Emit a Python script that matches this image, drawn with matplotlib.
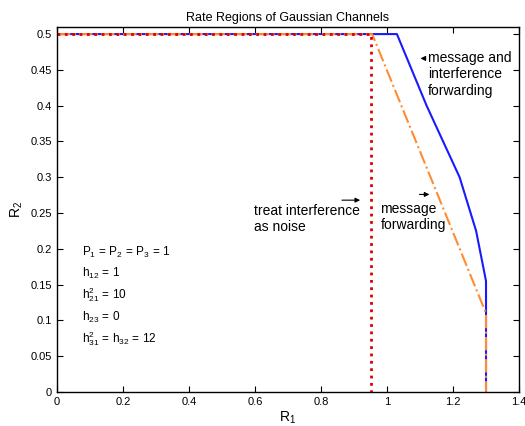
import numpy as np
import matplotlib
matplotlib.use('Agg')
import matplotlib.pyplot as plt

plt.rcParams['font.family'] = ['Liberation Sans', 'DejaVu Sans']
plt.rcParams['mathtext.fontset'] = 'custom'
plt.rcParams['mathtext.rm'] = 'Liberation Sans'
plt.rcParams['mathtext.it'] = 'Liberation Sans'

# message and interference forwarding
mif_r1 = [0, 1.03, 1.12, 1.22, 1.27, 1.30, 1.30]
mif_r2 = [0.5, 0.5, 0.40, 0.30, 0.225, 0.155, 0]

# message forwarding
mf_r1 = [0, 0.955, 1.30, 1.30]
mf_r2 = [0.5, 0.5, 0.11, 0]

# treat interference as noise
tin_r1 = [0, 0.952, 0.952]
tin_r2 = [0.5, 0.5, 0]

fig = plt.figure(figsize=(5.25, 4.26), dpi=100)
ax = fig.add_axes([0.1086, 0.0798, 0.88, 0.857])

ax.plot(mif_r1, mif_r2, color='#1a1aff', lw=1.5, ls='-')
ax.plot(mf_r1, mf_r2, color='#ff8c33', lw=1.5, ls='-.')
ax.plot(tin_r1, tin_r2, color='#dd0000', lw=2, ls=':')

ax.set_xlim(0, 1.4)
ax.set_ylim(0, 0.51)
ax.set_xticks(np.arange(0, 1.41, 0.2))
ax.set_xticklabels(['0', '0.2', '0.4', '0.6', '0.8', '1', '1.2', '1.4'])
ax.set_yticks(np.arange(0, 0.51, 0.05))
ax.set_yticklabels(['0', '0.05', '0.1', '0.15', '0.2', '0.25', '0.3', '0.35', '0.4', '0.45', '0.5'])
ax.tick_params(direction='in', top=True, right=True, labelsize=8, length=4)
for s in ax.spines.values():
    s.set_linewidth(1)

ax.set_title('Rate Regions of Gaussian Channels', fontsize=9, pad=4)
ax.set_xlabel('R$_1$', fontsize=10, labelpad=2)
ax.set_ylabel('R$_2$', fontsize=10, labelpad=4)

fs = 10
ax.text(1.125, 0.476, 'message and\ninterference\nforwarding', fontsize=fs,
        va='top', ha='left', linespacing=1.2)
ax.annotate('', xy=(1.093, 0.466), xytext=(1.12, 0.466),
            arrowprops=dict(arrowstyle='-|>', color='k', lw=0.8, mutation_scale=7))

ax.text(0.596, 0.262, 'treat interference\nas noise', fontsize=fs,
        va='top', ha='left', linespacing=1.15)
ax.annotate('', xy=(0.927, 0.268), xytext=(0.855, 0.268),
            arrowprops=dict(arrowstyle='-|>', color='k', lw=0.8, mutation_scale=7))

ax.text(0.98, 0.265, 'message\nforwarding', fontsize=fs,
        va='top', ha='left', linespacing=1.15)
ax.annotate('', xy=(1.137, 0.276), xytext=(1.09, 0.276),
            arrowprops=dict(arrowstyle='-|>', color='k', lw=0.8, mutation_scale=7))

params = [
    (0.19, '$\\mathregular{P_1\\,=\\,P_2\\,=\\,P_3\\,=\\,1}$'),
    (0.161, '$\\mathregular{h_{12}\\,=\\,1}$'),
    (0.131, '$\\mathregular{h^2_{21}\\,=\\,10}$'),
    (0.10, '$\\mathregular{h_{23}\\,=\\,0}$'),
    (0.069, '$\\mathregular{h^2_{31}\\,=\\,h_{32}\\,=\\,12}$'),
]
for y, s in params:
    ax.text(0.075, y, s, fontsize=8.5, va='baseline', ha='left')

fig.savefig('out.png', dpi=100)
